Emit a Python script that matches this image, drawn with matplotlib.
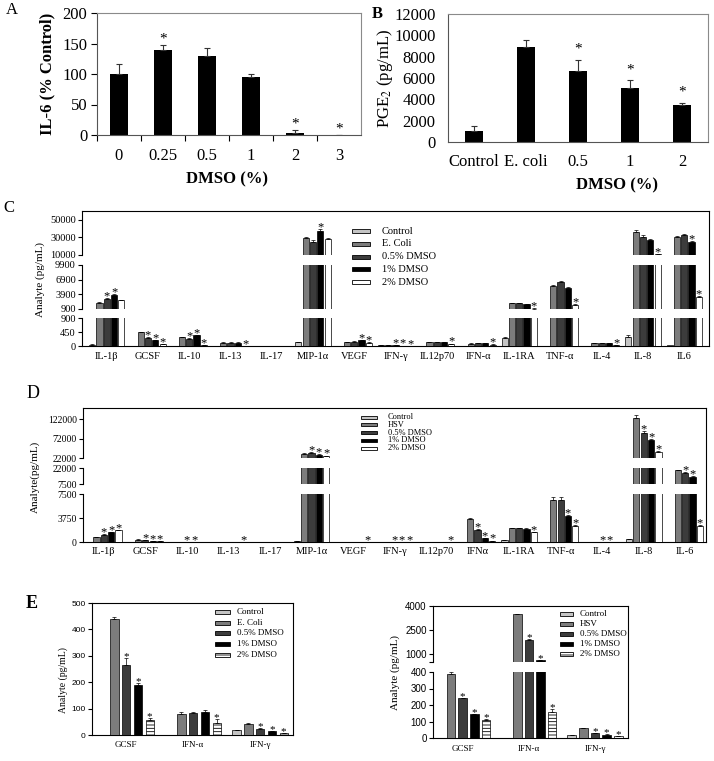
import matplotlib
matplotlib.use('Agg')
import matplotlib.pyplot as plt
from matplotlib.patches import Rectangle
import numpy as np

plt.rcParams['font.family'] = ['Liberation Serif', 'DejaVu Serif']
plt.rcParams['mathtext.fontset'] = 'stix'
plt.rcParams['hatch.linewidth'] = 0.6

# ---------------- data ----------------
a_cats = ['0', '0.25', '0.5', '1', '2', '3']
a_vals = [100, 140, 130, 95, 4, 0]
a_errs = [17, 7, 12, 5, 4, 0]
a_sig = [0, 1, 0, 0, 1, 1]

b_cats = ['Control', 'E. coli', '0.5', '1', '2']
b_vals = [1000, 8900, 6700, 5100, 3500]
b_errs = [500, 700, 1000, 700, 200]
b_sig = [0, 0, 1, 1, 1]

groups_ecoli = ['Control', 'E. Coli', '0.5% DMSO', '1% DMSO', '2% DMSO']
groups_hsv = ['Control', 'HSV', '0.5% DMSO', '1% DMSO', '2% DMSO']

c_cats = ['IL-1β', 'GCSF', 'IL-10', 'IL-13', 'IL-17', 'MIP-1α', 'VEGF', 'IFN-γ',
          'IL12p70', 'IFN-α', 'IL-1RA', 'TNF-α', 'IL-4', 'IL-8', 'IL6']
c_control = [40, 0, 0, 0, 3, 120, 10, 18, 5, 0, 250, 10, 0, 300, 20]
c_ecoli = [2100, 440, 280, 110, 3, 29000, 130, 42, 120, 80, 2100, 5600, 100, 36000, 30900]
c_dmso05 = [2900, 265, 223, 110, 3, 24500, 140, 24, 130, 85, 2050, 6400, 100, 30200, 32900]
c_dmso1 = [3800, 190, 347, 110, 5, 37400, 190, 14, 130, 87, 1860, 5260, 100, 27100, 24500]
c_dmso2 = [2700, 55, 20, 10, 5, 28300, 110, 8, 70, 45, 1000, 1720, 20, 11100, 3290]
c_err_control = [10, 0, 0, 0, 0, 20, 0, 2, 0, 0, 30, 0, 0, 40, 0]
c_err_ecoli = [150, 15, 15, 10, 0, 1500, 10, 2, 10, 5, 100, 200, 10, 2700, 800]
c_err_dmso05 = [150, 25, 20, 10, 0, 2000, 15, 2, 10, 5, 80, 250, 10, 2500, 1000]
c_err_dmso1 = [200, 15, 20, 10, 0, 2000, 15, 2, 10, 5, 80, 200, 10, 1000, 1200]
c_err_dmso2 = [100, 8, 5, 3, 0, 800, 15, 1, 10, 10, 60, 150, 5, 500, 200]
c_sig = [[2, 3], [2, 3, 4], [2, 3, 4], [4], [], [3], [3, 4], [2, 3, 4], [4], [4],
         [4], [4], [4], [4], [3, 4]]

d_cats = ['IL-1β', 'GCSF', 'IL-10', 'IL-13', 'IL-17', 'MIP-1α', 'VEGF', 'IFN-γ',
          'IL12p70', 'IFNα', 'IL-1RA', 'TNF-α', 'IL-4', 'IL-8', 'IL-6']
d_control = [0, 0, 0, 0, 0, 100, 0, 18, 0, 0, 300, 0, 0, 400, 0]
d_hsv = [780, 385, 40, 20, 5, 31600, 30, 60, 20, 3600, 2130, 6500, 20, 126000, 20000]
d_dmso05 = [1140, 240, 30, 20, 5, 35000, 30, 30, 20, 1900, 2130, 6600, 10, 87000, 17600]
d_dmso1 = [1500, 145, 20, 20, 5, 30900, 30, 20, 30, 560, 2080, 4060, 10, 68000, 14100]
d_dmso2 = [1800, 110, 10, 10, 5, 26400, 10, 12, 10, 200, 1560, 2550, 15, 37600, 2440]
d_err_control = [0, 0, 0, 0, 0, 50, 0, 2, 0, 0, 40, 0, 0, 50, 0]
d_err_hsv = [60, 15, 0, 0, 0, 2500, 0, 3, 0, 120, 60, 500, 0, 6000, 600]
d_err_dmso05 = [80, 10, 0, 0, 0, 3000, 0, 3, 0, 100, 60, 500, 0, 5000, 600]
d_err_dmso1 = [100, 5, 0, 0, 0, 2000, 0, 2, 0, 60, 60, 200, 0, 2500, 500]
d_err_dmso2 = [80, 8, 0, 0, 0, 2000, 0, 2, 0, 30, 60, 150, 0, 2500, 150]
d_sig = [[2, 3, 4], [2, 3, 4], [2, 3], [4], [], [2, 3, 4], [4], [2, 3, 4], [4],
         [2, 3, 4], [4], [3, 4], [2, 3], [2, 3, 4], [2, 3, 4]]

e_cats = ['GCSF', 'IFN-α', 'IFN-γ']
eL_control = [0, 0, 18]
eL_ecoli = [440, 80, 42]
eL_dmso05 = [265, 85, 24]
eL_dmso1 = [190, 87, 14]
eL_dmso2 = [55, 45, 8]
eL_err_control = [0, 0, 2]
eL_err_ecoli = [8, 7, 2]
eL_err_dmso05 = [25, 4, 2]
eL_err_dmso1 = [8, 8, 2]
eL_err_dmso2 = [8, 14, 1]
eL_sig = [[2, 3, 4], [4], [2, 3, 4]]

eR_control = [0, 0, 18]
eR_hsv = [385, 3480, 60]
eR_dmso05 = [240, 1850, 30]
eR_dmso1 = [145, 620, 20]
eR_dmso2 = [110, 155, 12]
eR_err_control = [0, 0, 1]
eR_err_hsv = [15, 40, 2]
eR_err_dmso05 = [5, 60, 3]
eR_err_dmso1 = [3, 20, 2]
eR_err_dmso2 = [8, 20, 2]
eR_sig = [[2, 3, 4], [2, 3, 4], [2, 3, 4]]

# ---------------- style ----------------
W, H = 714, 761
fig = plt.figure(figsize=(W / 100, H / 100), dpi=100)
COLORS = ['#c4c4c4', '#7c7c7c', '#3c3c3c', '#000000', '#ffffff']
SANS = ['Liberation Sans', 'DejaVu Sans']


def px(x0, y0, x1, y1):
    return [x0 / W, 1 - y1 / H, (x1 - x0) / W, (y1 - y0) / H]


def ftext(x, y, s, **kw):
    fig.text(x / W, 1 - y / H, s, **kw)


def manual_legend(labels, hatches, xh, hw, hh, xt, y0, dy, fs):
    for i, lab in enumerate(labels):
        yc = y0 + i * dy
        fig.add_artist(Rectangle((xh / W, 1 - (yc + hh / 2) / H), hw / W, hh / H,
                                 transform=fig.transFigure, facecolor=COLORS[i],
                                 edgecolor='black', linewidth=0.6, hatch=hatches[i]))
        ftext(xt, yc, lab, fontsize=fs, va='center', ha='left')


def seg_index(segs, v):
    for k in range(len(segs) - 1):
        if v < segs[k + 1][0]:
            return k
    return len(segs) - 1


def broken_panel(x0, x1, ftop, fbot, segs, cats, series, errs, sig, xlim,
                 pitch, width, tick_fs, cat_fs, cat_pad, star_fs, hatches,
                 tick_family=None, lw=0.5):
    x = np.arange(len(cats))
    n = len(series)
    frame = fig.add_axes(px(x0, ftop, x1, fbot))
    frame.patch.set_visible(False)
    frame.set_xlim(*xlim)
    frame.set_ylim(0, 1)
    frame.spines['left'].set_visible(False)
    for s in ['top', 'right', 'bottom']:
        frame.spines[s].set_linewidth(0.8)
    frame.set_yticks([])
    frame.set_xticks(x)
    frame.set_xticklabels(cats, fontsize=cat_fs)
    frame.tick_params(axis='x', length=0, pad=cat_pad)
    axes = []
    for k, (lo, hi, ptop, pbot, ticks, minor) in enumerate(segs):
        ax = fig.add_axes(px(x0, ptop, x1, pbot))
        ax.patch.set_visible(False)
        for s in ['top', 'right', 'bottom']:
            ax.spines[s].set_visible(False)
        ax.spines['left'].set_linewidth(0.8)
        ax.set_xlim(*xlim)
        ax.set_ylim(lo, hi)
        ax.set_yticks(ticks)
        kw = {}
        if tick_family:
            kw['family'] = tick_family
        ax.set_yticklabels([str(t) for t in ticks], fontsize=tick_fs, **kw)
        if minor:
            ax.set_yticks(minor, minor=True)
            ax.tick_params(axis='y', which='minor', length=3, width=0.8)
        ax.tick_params(axis='y', length=3, width=0.8, pad=1.5)
        ax.set_xticks([])
        for i in range(n):
            off = (i - (n - 1) / 2) * pitch
            vals = np.asarray(series[i], dtype=float)
            er = np.asarray(errs[i], dtype=float)
            ax.bar(x + off, vals, width, color=COLORS[i], edgecolor='black',
                   linewidth=lw, hatch=hatches[i], zorder=2)
            tops = vals + er
            m = np.array([seg_index(segs, t) == k for t in tops]) & (er > 0)
            if m.any():
                ax.errorbar((x + off)[m], vals[m], yerr=[np.zeros(m.sum()), er[m]],
                            fmt='none', ecolor='black', elinewidth=0.5, capsize=1.2,
                            capthick=0.5, zorder=3, clip_on=False)
        axes.append(ax)
    for ci, slist in enumerate(sig):
        for si in slist:
            off = (si - (n - 1) / 2) * pitch
            top = series[si][ci] + errs[si][ci]
            target = axes[seg_index(segs, top)]
            target.annotate('*', (x[ci] + off, top), xytext=(0, -0.1 * star_fs),
                            textcoords='offset points', ha='center', va='baseline',
                            fontsize=star_fs, annotation_clip=False, zorder=4)
    return frame


# ---------------- Panel A ----------------
axA = fig.add_axes(px(97, 13, 361, 135))
xa = np.arange(len(a_cats))
axA.bar(xa, a_vals, 0.4, color='black',
        yerr=[np.zeros(len(a_vals)), a_errs],
        error_kw=dict(ecolor='#333333', elinewidth=0.8, capsize=2.5, capthick=0.8))
axA.set_xlim(-0.5, 5.5)
axA.set_ylim(0, 200)
axA.set_yticks([0, 50, 100, 150, 200])
axA.set_yticklabels(['0', '50', '100', '150', '200'], fontsize=12)
axA.set_xticks(xa)
axA.set_xticklabels(a_cats, fontsize=12)
axA.set_xticks(np.arange(-0.5, 5.0, 1.0), minor=True)
axA.tick_params(axis='x', which='major', length=0, pad=9)
axA.tick_params(axis='x', which='minor', length=4, width=0.8, direction='out')
axA.tick_params(axis='y', length=4, width=0.8, pad=3)
for s in ['top', 'right']:
    axA.spines[s].set_color('#8a8a8a')
for s in ['left', 'bottom']:
    axA.spines[s].set_color('#555555')
for i, sg in enumerate(a_sig):
    if sg:
        axA.annotate('*', (xa[i], a_vals[i] + a_errs[i]), xytext=(0, 2),
                     textcoords='offset points', ha='center', va='baseline', fontsize=11)
ftext(47, 74, 'IL-6 (% Control)', rotation=90, fontsize=12, fontweight='bold',
      ha='center', va='center')
ftext(227, 179, 'DMSO (%)', fontsize=12, fontweight='bold', ha='center', va='center')
ftext(12, 10, 'A', fontsize=12, ha='center', va='center')

# ---------------- Panel B ----------------
axB = fig.add_axes(px(448, 14, 708, 142))
xb = np.arange(len(b_cats))
axB.bar(xb, b_vals, 0.33, color='black',
        yerr=[np.zeros(len(b_vals)), b_errs],
        error_kw=dict(ecolor='#333333', elinewidth=0.8, capsize=2.5, capthick=0.8))
axB.set_xlim(-0.5, 4.5)
axB.set_ylim(0, 12000)
yt = [0, 2000, 4000, 6000, 8000, 10000, 12000]
axB.set_yticks(yt)
axB.set_yticklabels([str(v) for v in yt], fontsize=12)
axB.set_xticks(xb)
axB.set_xticklabels(b_cats, fontsize=12)
axB.tick_params(axis='x', length=0, pad=9)
axB.tick_params(axis='y', length=0, pad=9)
for s in ['top', 'right']:
    axB.spines[s].set_color('#8a8a8a')
for s in ['left', 'bottom']:
    axB.spines[s].set_color('#555555')
for i, sg in enumerate(b_sig):
    if sg:
        axB.annotate('*', (xb[i], b_vals[i] + b_errs[i]), xytext=(0, 5),
                     textcoords='offset points', ha='center', va='baseline', fontsize=11)
ftext(385, 78, 'PGE$_2$ (pg/mL)', rotation=90, fontsize=12, ha='center', va='center')
ftext(617, 185, 'DMSO (%)', fontsize=12, fontweight='bold', ha='center', va='center')
ftext(377, 14, 'B', fontsize=12, fontweight='bold', ha='center', va='center')

# ---------------- Panel C ----------------
no_hatch = [None] * 5
broken_panel(82, 709, 211, 346,
             [(0, 900, 318, 346, [0, 450, 900], None),
              (900, 9900, 265, 309, [900, 3900, 6900, 9900], None),
              (10000, 60000, 211, 255, [10000, 30000, 50000], None)],
             c_cats, [c_control, c_ecoli, c_dmso05, c_dmso1, c_dmso2],
             [c_err_control, c_err_ecoli, c_err_dmso05, c_err_dmso1, c_err_dmso2],
             c_sig, (-0.6, 14.6), 0.177, 0.15, 7.5, 7.5, 4, 9, no_hatch)
manual_legend(groups_ecoli, no_hatch, 352, 18, 4, 382, 231, 12.8, 7.5)
ftext(40, 280, 'Analyte (pg/mL)', rotation=90, fontsize=8, ha='center', va='center')
ftext(9, 208, 'C', fontsize=12, ha='center', va='center')

# ---------------- Panel D ----------------
broken_panel(83, 706, 408, 542,
             [(0, 7500, 494, 542, [0, 3750, 7500], None),
              (7500, 22000, 468, 484, [7500, 22000], None),
              (22000, 151000, 408, 458, [22000, 72000, 122000], None)],
             d_cats, [d_control, d_hsv, d_dmso05, d_dmso1, d_dmso2],
             [d_err_control, d_err_hsv, d_err_dmso05, d_err_dmso1, d_err_dmso2],
             d_sig, (-0.5, 14.5), 0.177, 0.15, 7, 7.5, 3.5, 9, no_hatch)
manual_legend(groups_hsv, no_hatch, 361, 16, 3, 388, 417, 7.8, 6)
ftext(35, 477, 'Analyte(pg/mL)', rotation=90, fontsize=8, ha='center', va='center')
ftext(33, 394, 'D', fontsize=13, ha='center', va='center')

# ---------------- Panel E (left) ----------------
e_hatch = [None, None, None, None, '-----']
broken_panel(92, 293, 603, 735,
             [(0, 500, 603, 735, [0, 100, 200, 300, 400, 500], None)],
             e_cats, [eL_control, eL_ecoli, eL_dmso05, eL_dmso1, eL_dmso2],
             [eL_err_control, eL_err_ecoli, eL_err_dmso05, eL_err_dmso1, eL_err_dmso2],
             eL_sig, (-0.51, 2.49), 0.176, 0.125, 6, 6.5, 4.5, 8, e_hatch,
             tick_family=SANS)
manual_legend(groups_ecoli, e_hatch, 215, 15, 4, 237, 612, 10.7, 6.5)
ftext(63, 680, 'Analyte (pg/mL)', rotation=90, fontsize=7, ha='center', va='center')
ftext(32, 604, 'E', fontsize=13, fontweight='bold', ha='center', va='center')

# ---------------- Panel E (right) ----------------
broken_panel(433, 628, 606, 738,
             [(0, 400, 672, 738, [0, 100, 200, 300, 400], None),
              (500, 4000, 606, 662, [1000, 2500, 4000], [500])],
             e_cats, [eR_control, eR_hsv, eR_dmso05, eR_dmso1, eR_dmso2],
             [eR_err_control, eR_err_hsv, eR_err_dmso05, eR_err_dmso1, eR_err_dmso2],
             eR_sig, (-0.45, 2.5), 0.176, 0.13, 7, 6.5, 5, 8, e_hatch,
             tick_family=SANS)
manual_legend(groups_hsv, e_hatch, 560, 13, 4, 580, 614, 10, 6.5)
ftext(395, 673, 'Analyte (pg/mL)', rotation=90, fontsize=8, ha='center', va='center')

fig.savefig('out.png', dpi=100)
